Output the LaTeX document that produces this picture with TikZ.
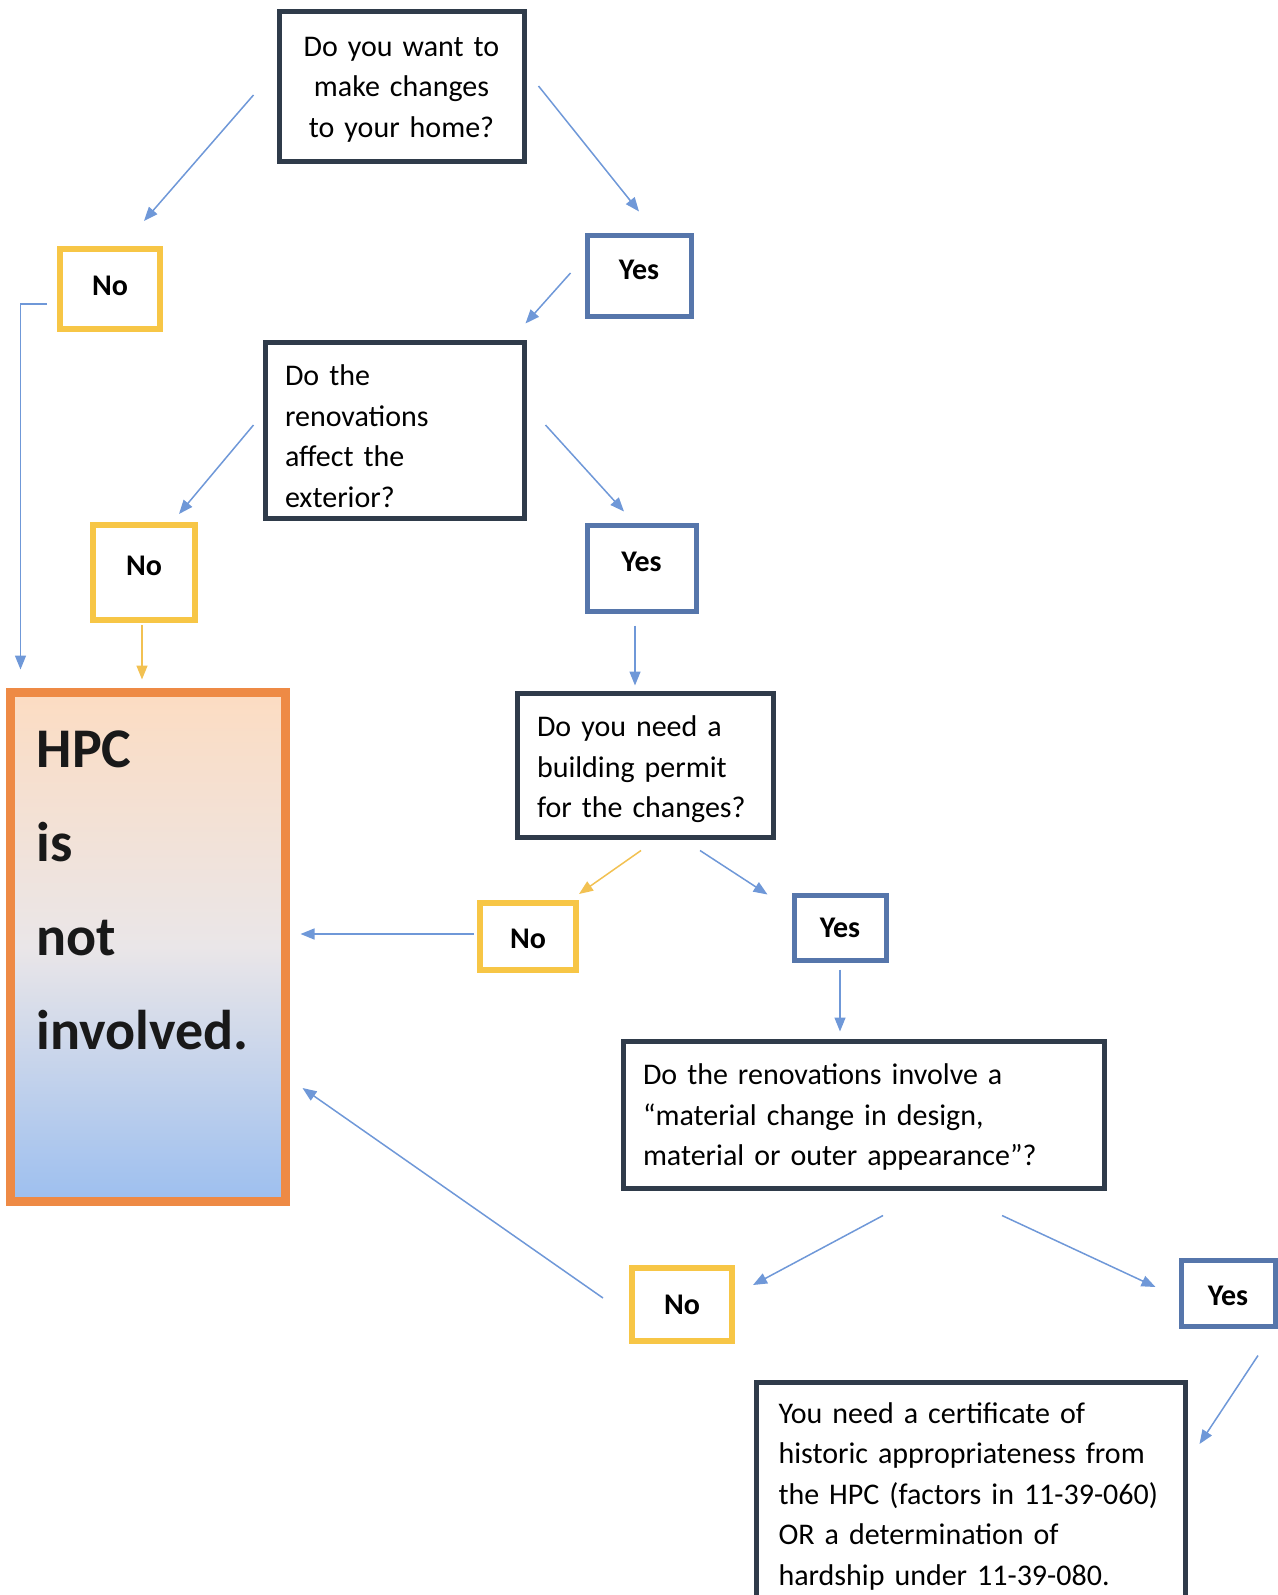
\documentclass[tikz,border=0pt]{standalone}
\usepackage{fontspec}
\setmainfont{Carlito}
\usetikzlibrary{arrows.meta}
\definecolor{darkbox}{HTML}{2F3B4A}
\definecolor{yesblue}{HTML}{5676AB}
\definecolor{noyellow}{HTML}{F7C646}
\definecolor{hpcorange}{HTML}{EE8A45}
\definecolor{arrblue}{HTML}{6F98D8}
\definecolor{arryellow}{HTML}{F2C152}
\definecolor{peach}{HTML}{FCDCC2}
\definecolor{midgrey}{HTML}{EAE6E8}
\definecolor{lowblue}{HTML}{9DBFEF}
\newcommand\mylift[2]{\raisebox{#1}[\height][\depth]{#2}}
\newcommand\topstrut[1]{\rule{0pt}{#1}}
\tikzset{
  txt/.style={font=\fontsize{30}{40.5}\selectfont, text=black},
  qbox/.style={draw=darkbox, line width=5pt, fill=white, txt, inner xsep=20pt, inner ysep=8pt, align=left},
  yesbox/.style={draw=yesblue, line width=5pt, fill=white, txt, font=\fontsize{30}{36}\selectfont\bfseries, inner sep=0pt},
  nobox/.style={draw=noyellow, line width=6pt, fill=white, txt, font=\fontsize{30}{36}\selectfont\bfseries, inner sep=0pt},
  hpcbox/.style={draw=hpcorange, line width=9pt, top color=peach, bottom color=lowblue, middle color=midgrey, inner sep=0pt},
  hpctext/.style={font=\fontsize{56}{94}\selectfont\bfseries, text=black!90, align=left, inner sep=0pt},
  arr/.style={draw=arrblue, line width=1.5pt, -{Triangle[length=14pt,width=11pt]}},
  arry/.style={draw=arryellow, line width=1.5pt, -{Triangle[length=14pt,width=11pt]}},
}
\begin{document}
\begin{tikzpicture}[x=1pt,y=-1pt]
\useasboundingbox (0,0) rectangle (1277,1595);

% nodes
\node[qbox, align=center, text width=205pt, minimum height=149pt] (q1) at (401.5,86.5) {\topstrut{25.5pt}Do you want to\\make changes\\to your home?};
\node[nobox, minimum width=100pt, minimum height=80pt] (no1) at (110,289) {\mylift{3pt}{No}};
\node[yesbox, minimum width=104pt, minimum height=81pt] (yes1) at (639,275.5) {\mylift{6pt}{Yes}};
\node[qbox, text width=219pt, minimum height=176pt] (q2) at (394.5,430) {\topstrut{33.6pt}Do the\\renovations\\affect the\\exterior?};
\node[nobox, minimum width=102pt, minimum height=95pt] (no2) at (144,572.5) {\mylift{7pt}{No}};
\node[yesbox, minimum width=109pt, minimum height=86pt] (yes2) at (641.5,568) {\mylift{6pt}{Yes}};

\node[hpcbox, minimum width=275pt, minimum height=509pt] (hpc) at (147.5,946.5) {};
\node[hpctext, anchor=north west] (hpct) at ([shift={(31,43)}]hpc.north west) {HPC\\is\\not\\involved.};

\node[qbox, text width=216pt, minimum height=144pt] (q3) at (645,765) {\topstrut{29.6pt}Do you need a\\building permit\\for the changes?};
\node[nobox, minimum width=96pt, minimum height=67pt] (no3) at (528,936.5) {\mylift{-2pt}{No}};
\node[yesbox, minimum width=92pt, minimum height=65pt] (yes3) at (840,927.5) {Yes};
\node[qbox, text width=441pt, minimum height=147pt] (q4) at (863.5,1114.5) {\topstrut{26.6pt}Do the renovations involve a\\“material change in design,\\material or outer appearance”?};
\node[nobox, minimum width=100pt, minimum height=73pt] (no4) at (682,1304.5) {No};
\node[yesbox, minimum width=94pt, minimum height=66pt] (yes4) at (1228,1293) {\mylift{-3pt}{Yes}};
\node[qbox, text width=384pt, anchor=north, inner xsep=22.5pt, inner ysep=17pt] (q5) at (970.5,1380) {\topstrut{23.6pt}You need a certificate of\\historic appropriateness from\\the HPC (factors in 11-39-060)\\OR a determination of\\hardship under 11-39-080.};

% connectors
\draw[arr] ([shift={(-23,8.5)}]q1.west) -- ([shift={(34,-25)}]no1.north);
\draw[arr] ([shift={(12,-0.5)}]q1.east) -- ([shift={(0,-21)}]yes1.north);
\draw[arr] ([shift={(-14,-2.5)}]yes1.west) -- ([shift={(-1,-16)}]q2.north east);
\draw[arr] ([shift={(-9,-5)}]q2.west) -- ([shift={(35,-8)}]no2.north);
\draw[arr] ([shift={(19,-5)}]q2.east) -- ([shift={(-17.5,-11)}]yes2.north);
\draw[arr] ([shift={(-10,15)}]no1.west) -| ([shift={(15,-18)}]hpc.north west);
\draw[arry] ([shift={(-2,2)}]no2.south) -- ([shift={(-5.5,-8)}]hpc.north);
\draw[arr] ([shift={(-6.5,12)}]yes2.south) -- ([shift={(-10,-5)}]q3.north);
\draw[arry] ([shift={(-4,11)}]q3.south) -- ([shift={(0,-6)}]no3.north east);
\draw[arr] ([shift={(55,11)}]q3.south) -- ([shift={(-24,2)}]yes3.north west);
\draw[arr] ([shift={(-3,-2.5)}]no3.west) -- ([shift={(11,-12.5)}]hpc.east);
\draw[arr] ([shift={(0,7)}]yes3.south) -- ([shift={(-23.5,-7)}]q4.north);
\draw[arr] ([shift={(19.5,25)}]q4.south) -- ([shift={(18,20)}]no4.north east);
\draw[arr] ([shift={(138.5,25)}]q4.south) -- ([shift={(-23,-6)}]yes4.west);
\draw[arr] ([shift={(-26,-6.5)}]no4.west) -- ([shift={(13,141.5)}]hpc.east);
\draw[arr] ([shift={(30,27)}]yes4.south) -- ([shift={(12,64)}]q5.north east);
\end{tikzpicture}
\end{document}
